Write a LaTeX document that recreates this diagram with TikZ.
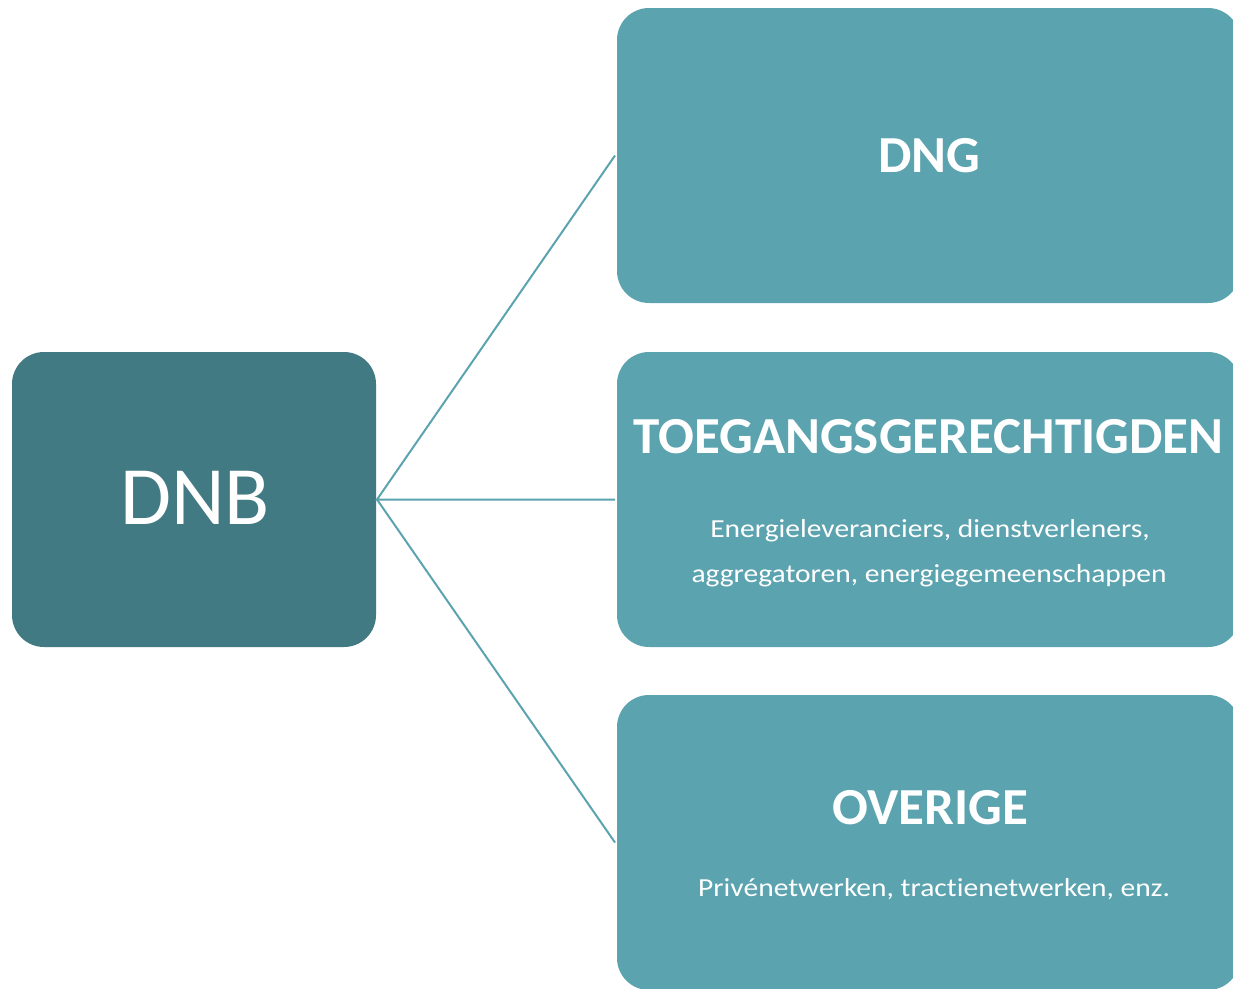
\documentclass[tikz,border=0pt]{standalone}
\usepackage{fontspec}
\setmainfont[RawFeature={-liga;-clig;-dlig;-calt}]{Carlito}
\definecolor{darkteal}{HTML}{427A84}
\definecolor{lightteal}{HTML}{5BA3AF}
\begin{document}
\begin{tikzpicture}[x=1pt,y=-1pt,
  box/.style={rounded corners=32pt, inner sep=0pt, minimum height=295pt},
  mainbox/.style={box, fill=darkteal, minimum width=364pt},
  subbox/.style={box, fill=lightteal, minimum width=623pt},
  title/.style={text=white, font=\bfseries\fontsize{52}{60}\selectfont, anchor=base, inner sep=0pt, xscale=1.02},
  sub/.style={text=white, font=\fontsize{26}{45}\selectfont, anchor=base, inner sep=0pt, xscale=1.135},
  link/.style={draw=lightteal, line width=2pt}]
\useasboundingbox (0,0) rectangle (1233,988);
\node[mainbox] (dnb) at (194,499.5) {};
\node[subbox] (dng) at (928.5,155.5) {};
\node[subbox] (toeg) at (928.5,499.5) {};
\node[subbox] (over) at (928.5,842.5) {};
\node[text=white, font=\fontsize{83}{90}\selectfont, anchor=base, inner sep=0pt] (dnbt) at (195,524) {DNB};
\node[title] (dngt) at (929.5,172) {DNG};
\node[title] (toegt) at (928.5,453) {TOEGANGSGERECHTIGDEN};
\node[sub] (toegs1) at (930,537) {Energieleveranciers, dienstverleners,};
\node[sub] (toegs2) at (929,582) {aggregatoren, energiegemeenschappen};
\node[title] (overt) at (930,824) {OVERIGE};
\node[sub] (overs) at (934,896) {Privénetwerken, trac\kern0pt tienetwerken, enz.};
\coordinate (hub) at (377,499.5);
\coordinate (e1) at (615,155.5);
\coordinate (e2) at (615,499.5);
\coordinate (e3) at (615,842.5);
\draw[link] (e1) -- (hub) -- (e2);
\draw[link] (hub) -- (e3);
\end{tikzpicture}
\end{document}
